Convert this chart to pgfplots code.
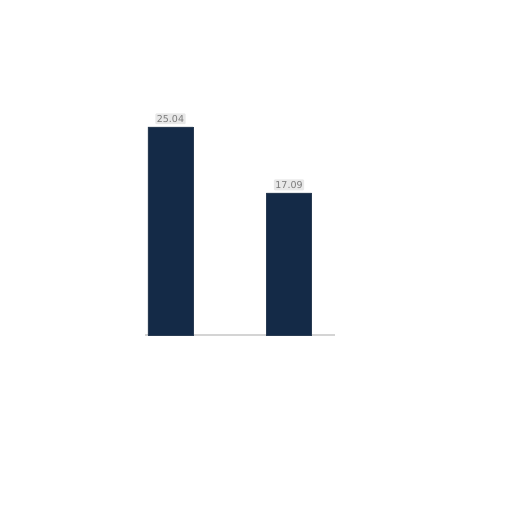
\documentclass[border=0pt]{standalone}
\usepackage{pgfplots}
\pgfplotsset{compat=1.18}
\usepackage{fontspec}
\setmainfont{DejaVu Sans}
\definecolor{barnavy}{HTML}{142A47}
\definecolor{labeltext}{HTML}{7A7A7A}
\definecolor{labelbg}{HTML}{E8E8E8}
\definecolor{axisgray}{HTML}{D4D4D4}

\begin{document}
\begin{tikzpicture}[x=1pt,y=1pt]
\path[use as bounding box,fill=white] (0,0) rectangle (512,512);
\begin{axis}[
    at={(145pt,177pt)}, anchor=south west,
    scale only axis,
    width=190pt, height=249.3pt,
    xmin=-0.215, xmax=1.388,
    ymin=0, ymax=30,
    axis y line=none,
    axis x line*=bottom,
    x axis line style={draw=axisgray, line width=1.5pt, -},
    xtick=\empty, ytick=\empty,
    clip=false,
    nodes near coords,
    nodes near coords style={font=\fontsize{9.5}{10}\selectfont, text=labeltext,
        fill=labelbg, inner xsep=1.5pt, inner ysep=1.8pt, rounded corners=1pt,
        yshift=2.5pt,
        /pgf/number format/.cd, fixed, fixed zerofill, precision=2,
        assume math mode=true},
]
\addplot[ybar, bar width=0.38, fill=barnavy, draw=barnavy!80!gray]
    coordinates {(0,25.04) (1,17.09)};
\end{axis}
\end{tikzpicture}
\end{document}
